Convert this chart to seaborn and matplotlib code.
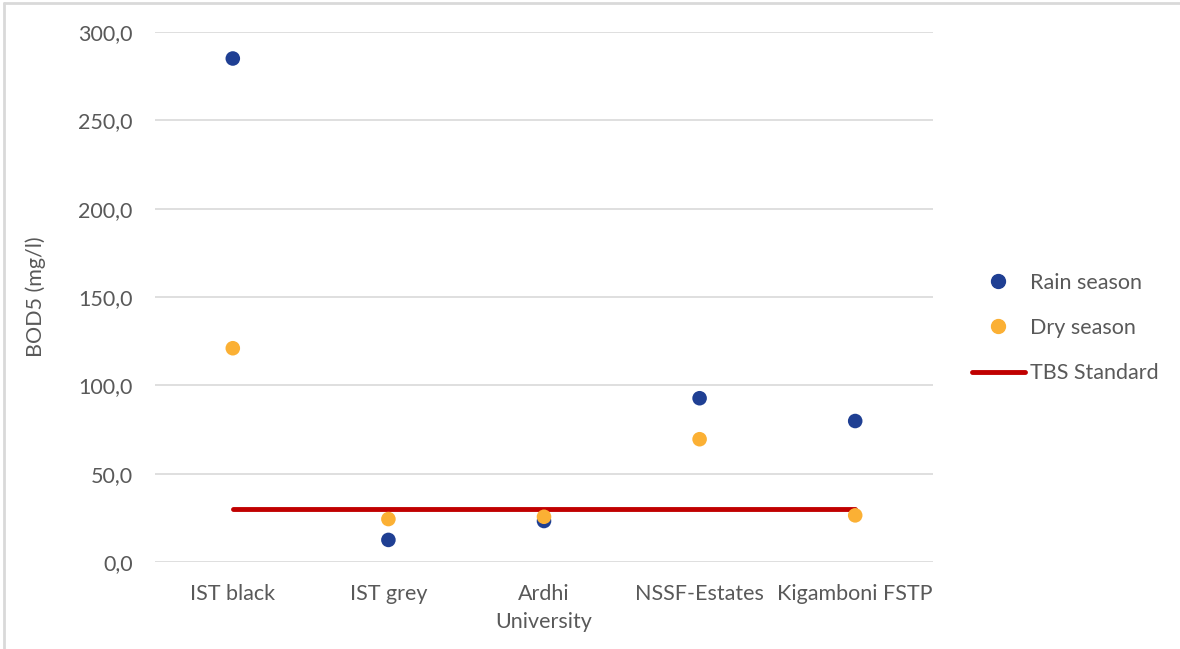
import matplotlib
matplotlib.use("Agg")
import matplotlib.pyplot as plt
import seaborn as sns
import pandas as pd
from matplotlib.lines import Line2D
from matplotlib.ticker import FuncFormatter

sites = ["IST black", "IST grey", "Ardhi\nUniversity", "NSSF-Estates", "Kigamboni FSTP"]
rain_season = [285.0, 12.5, 23.2, 92.7, 79.8]
dry_season = [121.0, 24.3, 25.6, 69.5, 26.4]
tbs_standard = [30.0, 30.0, 30.0, 30.0, 30.0]
y_ticks = [0, 50, 100, 150, 200, 250, 300]

sns.set_theme(style="white")
plt.rcParams["font.family"] = ["Lato", "DejaVu Sans"]

text_col = "#595959"
grid_col = "#d9d9d9"
rain_col = "#1f3f93"
dry_col = "#fbb034"
line_col = "#c00000"
fs = 15.5

df = pd.DataFrame({
    "site": sites * 2,
    "pos": list(range(len(sites))) * 2,
    "value": rain_season + dry_season,
    "season": ["Rain season"] * len(sites) + ["Dry season"] * len(sites),
})

fig = plt.figure(figsize=(11.8, 6.49), dpi=100)
ax = fig.add_axes([155 / 1180, 1 - 562 / 649, (933 - 155) / 1180, (562 - 32) / 649])

# TBS standard line runs across categories
sns.lineplot(x=list(range(len(sites))), y=tbs_standard, ax=ax, color=line_col,
             linewidth=3.5, zorder=2, legend=False)

sns.scatterplot(data=df, x="pos", y="value", hue="season",
                palette={"Rain season": rain_col, "Dry season": dry_col},
                s=110, edgecolor="none", ax=ax, zorder=3, legend=False)

ax.set_xlim(-0.5, len(sites) - 0.5)
ax.set_ylim(0, 300)
ax.set_yticks(y_ticks)
ax.yaxis.set_major_formatter(FuncFormatter(lambda v, p: f"{v:.1f}".replace(".", ",")))
ax.set_xticks(range(len(sites)))
ax.set_xticklabels(sites, linespacing=1.5)
ax.grid(axis="y", color=grid_col, linewidth=1.2)
ax.set_axisbelow(True)
for s in ax.spines.values():
    s.set_visible(False)
ax.tick_params(axis="both", length=0, labelsize=fs, colors=text_col)
ax.tick_params(axis="y", pad=16)
ax.tick_params(axis="x", pad=16)
ax.set_xlabel("")
ax.set_ylabel("BOD5 (mg/l)", fontsize=fs, color=text_col, labelpad=23)

handles = [
    Line2D([], [], marker="o", linestyle="none", color=rain_col, markersize=10),
    Line2D([], [], marker="o", linestyle="none", color=dry_col, markersize=10),
    Line2D([], [], color=line_col, linewidth=3.5),
]
leg = fig.legend(handles, ["Rain season", "Dry season", "TBS Standard"],
                 loc="center left", bbox_to_anchor=(972 / 1180, 1 - 328 / 649),
                 frameon=False, fontsize=fs, labelspacing=1.17, borderpad=0,
                 borderaxespad=0, handlelength=2.45, handletextpad=0.25,
                 labelcolor=text_col)

# chart frame
fig.add_artist(Line2D([4 / 1180, 4 / 1180], [0, 1 - 3 / 649], transform=fig.transFigure,
                      color=grid_col, linewidth=2))
fig.add_artist(Line2D([4 / 1180, 1], [1 - 3 / 649, 1 - 3 / 649], transform=fig.transFigure,
                      color=grid_col, linewidth=2))

fig.savefig("out.png", dpi=100)
